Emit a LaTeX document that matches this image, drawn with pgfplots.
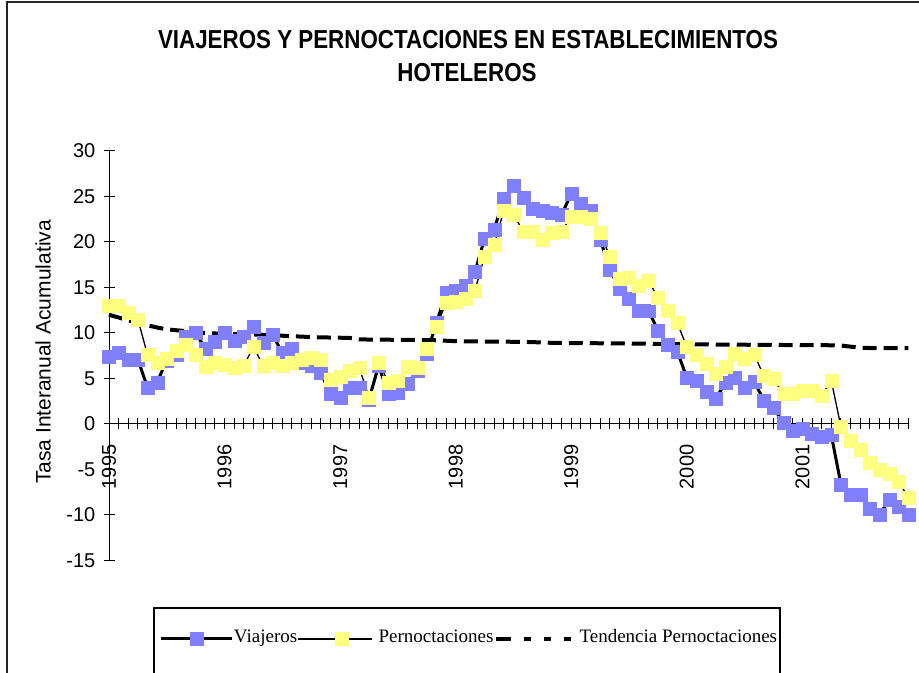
\documentclass[border=0pt]{standalone}
\usepackage{fontspec}
\setmainfont{Liberation Sans}
\newfontfamily\legendfont{Liberation Serif}
\usepackage{pgfplots}
\usepackage{pgfplotstable}
\pgfplotsset{compat=1.18}
\definecolor{blu}{HTML}{8080FF}
\definecolor{yel}{HTML}{FFFF80}

\pgfplotstableread{
i v p t
0 7.4 13.0 12.0
1 7.8 13.0 11.7
2 7.1 12.2 11.4
3 7.1 11.5 11.1
4 4.0 7.6 10.85
5 4.6 6.8 10.6
6 7.0 7.2 10.4
7 7.6 8.05 10.3
8 9.6 8.7 10.2
9 10.0 7.6 10.1
10 8.3 6.3 10.0
11 9.1 6.8 9.95
12 10.0 6.55 9.9
13 9.2 6.2 9.88
14 9.6 6.4 9.86
15 10.7 8.5 9.84
16 8.9 6.4 9.8
17 9.8 6.8 9.75
18 7.8 6.4 9.7
19 8.3 6.8 9.65
20 6.8 7.1 9.6
21 6.4 7.25 9.55
22 5.6 7.1 9.52
23 3.3 4.9 9.5
24 2.9 5.2 9.48
25 4.0 5.9 9.45
26 4.0 6.15 9.3
27 2.7 2.9 9.28
28 6.4 6.8 9.27
29 3.3 4.6 9.26
30 3.45 4.8 9.25
31 4.4 6.3 9.24
32 5.9 6.15 9.23
33 7.75 8.3 9.22
34 11.1 10.7 9.2
35 14.4 13.3 9.15
36 14.7 13.45 9.1
37 15.2 13.8 9.08
38 16.7 14.7 9.07
39 20.4 18.4 9.06
40 21.4 19.7 9.05
41 24.8 23.5 9.05
42 26.2 23.0 9.03
43 24.9 21.2 9.02
44 23.7 21.2 9.0
45 23.4 20.3 8.95
46 23.2 21.0 8.92
47 23.0 21.2 8.9
48 25.3 22.8 8.9
49 24.2 22.8 8.89
50 23.5 22.6 8.88
51 20.3 21.0 8.87
52 17.0 18.4 8.86
53 14.9 16.0 8.85
54 13.8 16.1 8.84
55 12.5 15.2 8.83
56 12.5 15.8 8.82
57 10.3 13.85 8.81
58 8.7 12.45 8.8
59 8.0 11.1 8.78
60 5.1 8.5 8.75
61 4.8 7.6 8.74
62 3.55 6.6 8.74
63 2.8 5.5 8.73
64 4.5 6.3 8.72
65 5.1 7.7 8.72
66 3.95 7.2 8.71
67 4.65 7.6 8.7
68 2.6 5.3 8.7
69 1.8 5.0 8.69
70 0.15 3.3 8.68
71 -0.7 3.3 8.68
72 -0.5 3.7 8.67
73 -1.0 3.7 8.66
74 -1.4 3.1 8.66
75 -1.2 4.8 8.65
76 -6.6 -0.3 8.62
77 -7.7 -1.8 8.5
78 -7.7 -2.8 8.38
79 -9.3 -4.2 8.35
80 -10.0 -5.05 8.35
81 -8.35 -5.5 8.35
82 -9.1 -6.3 8.35
83 -10.0 -8.1 8.35
}\datatable

\begin{document}
\begin{tikzpicture}[x=1bp,y=1bp]
\useasboundingbox (0,0) rectangle (919,673);
% outer frame (top and left visible)
\draw[line width=2bp, black!85] (7,-10) -- (7,671) -- (930,671);
% title
\node[anchor=base, font=\bfseries\fontsize{26bp}{30bp}\selectfont] at (468,624)
  {\scalebox{0.86}[1]{VIAJEROS Y PERNOCTACIONES EN ESTABLECIMIENTOS}};
\node[anchor=base, font=\bfseries\fontsize{26bp}{30bp}\selectfont] at (467,591)
  {\scalebox{0.86}[1]{HOTELEROS}};
% y label
\node[rotate=90, font=\fontsize{21bp}{24bp}\selectfont] at (43,321) {Tasa Interanual Acumulativa};
% legend frame
\draw[line width=1.3bp, black] (154,-10) -- (154,65) -- (780,65) -- (780,-10);

\begin{axis}[
  at={(109bp,112.5bp)}, anchor=south west,
  scale only axis, width=799.3bp, height=409.5bp,
  xmin=0, xmax=83, ymin=-15, ymax=30,
  axis x line=middle, axis y line=left,
  axis line style={-, black, line width=1bp},
  hide obscured x ticks=false, hide obscured y ticks=false,
  xtick={0,12,24,36,48,60,72},
  xticklabels={1995,1996,1997,1998,1999,2000,2001},
  minor xtick={1,...,83},
  ytick={-15,-10,-5,0,5,10,15,20,25,30},
  yticklabels={-15,-10,-5,0,5,10,15,20,25,30},
  tick align=center, major tick length=11bp, minor tick length=11bp,
  tick style={black, line width=1bp},
  xticklabel style={rotate=90, anchor=east, inner sep=0pt, font=\fontsize{20bp}{20bp}\selectfont},
  yticklabel style={anchor=east, inner sep=0pt, font=\fontsize{20bp}{20bp}\selectfont},
  xticklabel shift=15bp, yticklabel shift=8bp,
  clip=false,
  legend columns=3,
  legend cell align=left,
  legend style={draw=none, fill=none, at={(0.0638,-0.1697)}, anchor=north west,
    inner sep=0pt, outer sep=0pt, column sep=0pt, row sep=0pt,
    nodes={inner sep=0pt, text height=13bp, text depth=5bp,
      font=\legendfont\fontsize{19bp}{19bp}\selectfont}},
]
\addplot[black, line width=3bp, mark=square*, mark size=6.5bp,
  mark options={fill=blu, draw=blu, line width=0.1bp, solid},
  legend image code/.code={
    \draw[black, line width=3bp] (0bp,0bp) -- (71bp,0bp);
    \draw[draw=blu, fill=blu, line width=0.1bp] plot[mark=square*, mark size=6.5bp] coordinates {(35.5bp,0bp)};
  }] table[x=i, y=v] {\datatable};
\addlegendentry{Viajeros}
\addplot[black, line width=1.3bp, mark=square*, mark size=6.5bp,
  mark options={fill=yel, draw=yel, line width=0.1bp, solid},
  legend image code/.code={
    \path (-8bp,0bp) -- (0bp,0bp);
    \draw[black, line width=1.3bp] (0bp,0bp) -- (66bp,0bp);
    \draw[draw=yel, fill=yel, line width=0.1bp] plot[mark=square*, mark size=6.5bp] coordinates {(36bp,0bp)};
  }] table[x=i, y=p] {\datatable};
\addlegendentry{\hspace{6bp}Pernoctaciones}
\addplot[black, line width=4bp, dash pattern=on 14bp off 7bp, no marks,
  legend image code/.code={
    \path (-8bp,0bp) -- (0bp,0bp);
    \draw[black, line width=4bp, dash pattern=on 7bp off 13bp] (0bp,0bp) -- (71bp,0bp);
  }] table[x=i, y=t] {\datatable};
\addlegendentry{\hspace{3bp}Tendencia Pernoctaciones}
\end{axis}
\end{tikzpicture}
\end{document}
